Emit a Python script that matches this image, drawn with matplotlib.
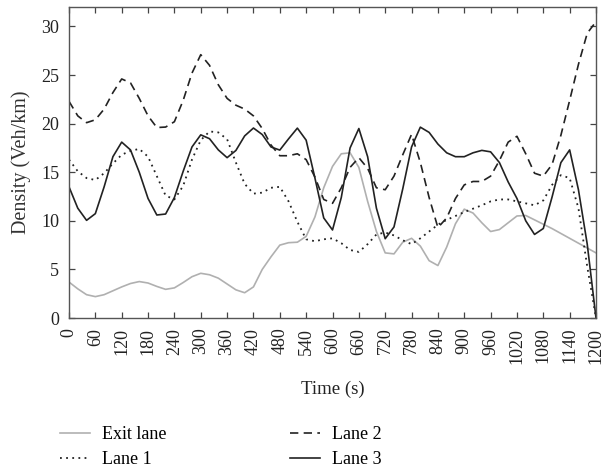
import matplotlib
matplotlib.use("Agg")
import matplotlib.pyplot as plt

plt.rcParams["font.family"] = ["Liberation Serif", "DejaVu Serif"]

# Sampling times (s)
time_s = list(range(0, 1201, 20))

exit_lane = [3.7, 3.0, 2.4, 2.2, 2.4, 2.8, 3.2, 3.55, 3.75, 3.6,
             3.25, 2.95, 3.1, 3.65, 4.25, 4.6, 4.45, 4.1, 3.5, 2.9,
             2.6, 3.2, 5.0, 6.3, 7.5, 7.75, 7.8, 8.4, 10.4, 13.4,
             15.6, 16.9, 17.0, 15.5, 12.0, 8.9, 6.7, 6.6, 7.8, 8.2,
             7.4, 5.9, 5.4, 7.3, 9.7, 11.2, 10.8, 9.8, 8.9, 9.1,
             9.8, 10.5, 10.55, 10.1, 9.65, 9.2, 8.7, 8.2, 7.7, 7.2,
             6.7]

lane_1 = [16.3, 15.1, 14.4, 14.2, 14.9, 15.9, 16.8, 17.2, 17.4, 16.6,
          14.6, 12.6, 12.2, 13.6, 16.3, 18.3, 19.2, 19.1, 18.4, 16.0,
          13.8, 12.8, 12.9, 13.4, 13.5, 12.0, 9.9, 8.1, 7.9, 8.1,
          8.2, 7.7, 7.0, 6.8, 7.6, 8.6, 8.8, 8.5, 8.0, 7.6,
          8.2, 8.9, 9.6, 10.1, 10.5, 10.9, 11.25, 11.6, 12.0, 12.2,
          12.2, 12.0, 11.8, 11.6, 12.1, 13.7, 14.7, 14.4, 11.3, 5.3,
          0.0]

lane_2 = [22.3, 20.8, 20.1, 20.4, 21.5, 23.2, 24.6, 24.2, 22.6, 20.8,
          19.6, 19.65, 20.2, 22.4, 25.2, 27.1, 26.0, 24.0, 22.6, 21.9,
          21.5, 20.8, 19.5, 17.8, 16.7, 16.7, 16.9, 16.3, 14.5, 12.2,
          11.8, 13.4, 15.5, 16.5, 15.4, 13.4, 13.2, 14.6, 16.8, 18.9,
          16.0, 12.4, 9.3, 10.3, 12.3, 13.7, 14.05, 14.05, 14.6, 16.2,
          18.1, 18.7, 16.9, 14.9, 14.6, 15.8, 18.8, 22.4, 26.1, 29.3,
          30.5]

lane_3 = [13.5, 11.3, 10.05, 10.74, 13.5, 16.6, 18.1, 17.3, 15.0, 12.3,
          10.6, 10.7, 12.4, 15.1, 17.6, 18.85, 18.45, 17.3, 16.5, 17.24,
          18.74, 19.55, 18.88, 17.6, 17.28, 18.44, 19.54, 18.3, 14.4, 10.3,
          9.06, 12.4, 17.5, 19.5, 16.6, 11.3, 8.16, 9.37, 13.3, 17.6,
          19.64, 19.1, 17.9, 17.0, 16.6, 16.6, 17.0, 17.25, 17.1, 16.0,
          14.0, 12.3, 10.0, 8.6, 9.21, 12.46, 15.99, 17.3, 13.2, 7.6,
          0.0]

x_ticks = list(range(0, 1201, 60))
y_ticks = [0, 5, 10, 15, 20, 25, 30]

fig = plt.figure(figsize=(6.01, 4.70), dpi=100)
ax = fig.add_axes([0.1148, 0.3234, 0.8769, 0.6616])

ax.plot(time_s, exit_lane, color="#b0b0b0", lw=1.2, label="Exit lane")
ax.plot(time_s, lane_1, color="#222222", lw=1.3, linestyle=(0, (1, 2.4)), label="Lane 1")
ax.plot(time_s, lane_2, color="#222222", lw=1.2, linestyle=(0, (5, 3.2)), label="Lane 2")
ax.plot(time_s, lane_3, color="#222222", lw=1.2, label="Lane 3")

ax.set_xlim(0, 1200)
ax.set_ylim(0, 32)
ax.set_xticks(x_ticks)
ax.set_xticklabels([str(v) for v in x_ticks], rotation=90, fontsize=13)
ax.set_yticks(y_ticks)
ax.set_yticklabels([str(v) for v in y_ticks], fontsize=13)
ax.tick_params(direction="in", length=4, width=0.9, top=True, right=True,
               color="#444444", labelcolor="#222222", pad=7)
for sp in ax.spines.values():
    sp.set_color("#555555")
    sp.set_linewidth(1.0)

ax.set_xlabel("Time (s)", fontsize=13.5, color="#222222", labelpad=12)
ax.set_ylabel("Density (Veh/km)", fontsize=14.5, color="#333333", labelpad=7)

handles, labels = ax.get_legend_handles_labels()
fig.legend(handles, labels, ncol=2, loc="upper left", bbox_to_anchor=(0.0998, 0.094),
           frameon=False, fontsize=13, handlelength=1.67, columnspacing=6.8,
           handletextpad=0.67, labelspacing=0.45, borderpad=0, borderaxespad=0)

fig.savefig("out.png", dpi=100)
